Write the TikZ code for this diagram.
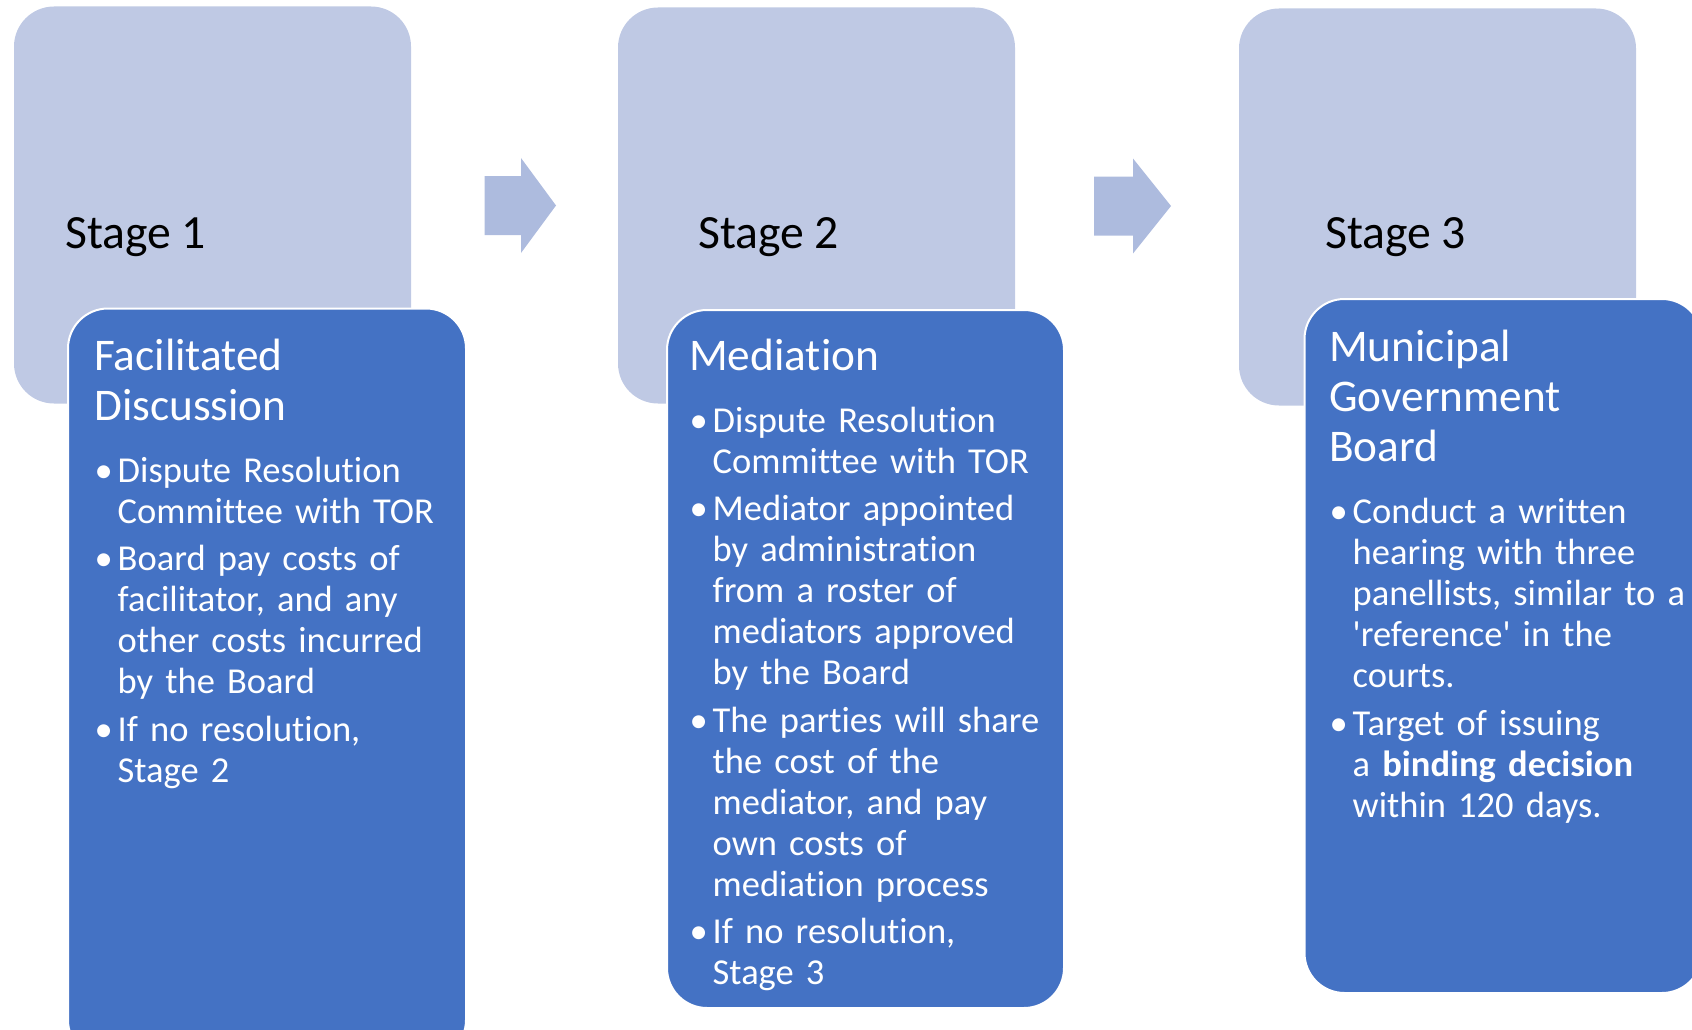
\documentclass[tikz,border=0pt]{standalone}
\usepackage{fontspec}
\newfontfamily\calf{Carlito}[Ligatures={NoCommon}]
\definecolor{lightbox}{RGB}{191,201,228}
\definecolor{arrowc}{RGB}{173,187,222}
\definecolor{darkbox}{RGB}{68,114,196}
\newcommand{\bul}[1]{\par\hangindent=23.5pt\hangafter=1\noindent\makebox[23.5pt][l]{\hspace{0.5pt}•}#1\par}
\tikzset{
  lightstage/.style={fill=lightbox, draw=none, rounded corners=40pt},
  darkstage/.style={fill=darkbox, draw=white, line width=2pt, rounded corners=40pt},
  flowarrow/.style={fill=arrowc, draw=none},
  stagelabel/.style={anchor=base west, inner sep=0pt, text=black, font=\calf\fontsize{47.7}{56}\selectfont},
  coltext/.style={anchor=north west, inner sep=0pt, text=white, text width=420pt, align=left,
    font=\calf\fontsize{36.5}{41}\selectfont},
}
\newcommand{\ttl}[1]{{\fontsize{45.3}{50}\selectfont\noindent\rule{0pt}{36pt}#1\par}\setlength{\parskip}{6.5pt}\vspace{14.5pt}}
\begin{document}
\begin{tikzpicture}[x=1pt,y=-1pt]
\useasboundingbox (0,0) rectangle (1692,1030);
\clip (0,0) rectangle (1692,1030);
% light stage boxes
\path[lightstage] (14,6.5) rectangle (411,403.5);
\path[lightstage] (618,7.5) rectangle (1015,403.5);
\path[lightstage] (1239,8.5) rectangle (1636,405.5);
% arrows
\path[flowarrow] (484.5,176) -- (521,176) -- (521,158) -- (556,205.5) -- (521,253) -- (521,235) -- (484.5,235) -- cycle;
\path[flowarrow] (1094,176.5) -- (1133,176.5) -- (1133,158.5) -- (1171,206) -- (1133,253.5) -- (1133,235.5) -- (1094,235.5) -- cycle;
% dark boxes
\path[darkstage] (68,308.5) rectangle (466,1060);
\path[darkstage] (667,310) rectangle (1064,1008);
\path[darkstage] (1304.5,299) rectangle (1702,993);
% stage labels
\node[stagelabel] (s1) at (65,248) {Stage 1};
\node[stagelabel] (s2) at (698,248) {Stage 2};
\node[stagelabel] (s3) at (1325,248) {Stage 3};
% column texts
\node[coltext] (c1) at (94,334) {\ttl{Facilitated\newline Discussion}%
\bul{Dispute Resolution\newline Committee with TOR}%
\bul{Board pay costs of\newline facilitator, and any\newline other costs incurred\newline by the Board}%
\bul{If no resolution,\newline Stage 2}};
\node[coltext] (c2) at (689,334) {\ttl{Mediation}%
\bul{Dispute Resolution\newline Committee with TOR}%
\bul{Mediator appointed\newline by administration\newline from a roster of\newline mediators approved\newline by the Board}%
\bul{The parties will share\newline the cost of the\newline mediator, and pay\newline own costs of\newline mediation process}%
\bul{If no resolution,\newline Stage 3}};
\node[coltext] (c3) at (1329,325.5) {\ttl{Municipal\newline Government\newline Board}%
\bul{Conduct a written\newline hearing with three\newline panellists, similar to a\newline 'reference' in the\newline courts.}%
\bul{Target of issuing\newline a \textbf{binding decision}\newline within 120 days.}};
\end{tikzpicture}
\end{document}
